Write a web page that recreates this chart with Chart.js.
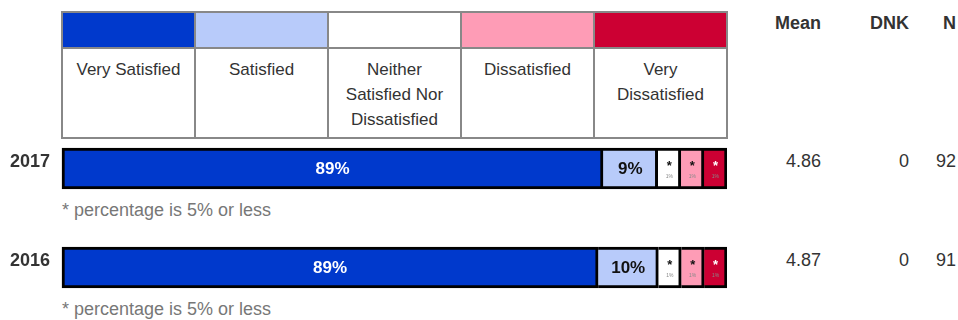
<!DOCTYPE html>
<html>
<head>
<meta charset="utf-8">
<script src="https://cdn.jsdelivr.net/npm/chart.js@4"></script>
<style>
  body { margin: 0; width: 958px; height: 320px; background: #fff; font-family: "Liberation Sans", Arial, sans-serif; color: #333; position: relative; overflow: hidden; }
  #legend { position: absolute; left: 61px; top: 11px; width: 667px; border-collapse: collapse; table-layout: fixed; border: 2px solid #333; }
  #legend td { border: 2px solid #888; text-align: center; vertical-align: top; font-size: 17px; line-height: 25px; padding: 8px 4px 0 4px; }
  #legend tr.swatch td { height: 34px; padding: 0; }
  #legend tr.names td { height: 80px; }
  .hdr { position: absolute; top: 13px; font-weight: bold; font-size: 18px; text-align: right; }
  .val { position: absolute; font-size: 18px; text-align: right; }
  .row { position: absolute; left: 0; width: 727px; height: 57px; }
  .note { position: absolute; left: 62px; font-size: 18px; color: #777; }
</style>
</head>
<body>
<table id="legend">
  <tr class="swatch" id="swatchRow"></tr>
  <tr class="names" id="nameRow"></tr>
</table>
<div id="extras"></div>

<script>
// categories and colours
const categories = ['Very Satisfied', 'Satisfied', 'Neither Satisfied Nor Dissatisfied', 'Dissatisfied', 'Very Dissatisfied'];
const colors = ['#0039cc', '#b8cbfa', '#ffffff', '#fe9cb6', '#cc0033'];
const textColors = ['#ffffff', '#111111', '#111111', '#111111', '#ffffff'];

// years and percentages per category
const years = ['2017', '2016'];
const values2017 = [89, 9, 1, 1, 1];
const values2016 = [89, 10, 1, 1, 1];
const means = ['4.86', '4.87'];
const dnk = [0, 0];
const counts = [92, 91];

const rowValues = [values2017, values2016];
const rowTops = [140, 239];
const noteText = '* percentage is 5% or less';
const minShare = 3.8; // small segments still get a visible slice

// legend table
const swatchRow = document.getElementById('swatchRow');
const nameRow = document.getElementById('nameRow');
categories.forEach((c, i) => {
    const s = document.createElement('td');
    s.style.background = colors[i];
    swatchRow.appendChild(s);
    const n = document.createElement('td');
    n.textContent = c;
    nameRow.appendChild(n);
});

const extras = document.getElementById('extras');
function addDiv(cls, text, style) {
    const d = document.createElement('div');
    d.className = cls;
    d.textContent = text;
    Object.assign(d.style, style);
    extras.appendChild(d);
    return d;
}
addDiv('hdr', 'Mean', { left: '740px', width: '81px' });
addDiv('hdr', 'DNK', { left: '840px', width: '69px' });
addDiv('hdr', 'N', { left: '920px', width: '36px' });

// segment labels
const labelPlugin = {
    id: 'segLabels',
    afterDatasetsDraw(chart) {
        const ctx = chart.ctx;
        const raw = chart.options.plugins.segLabels.raw;
        chart.data.datasets.forEach((ds, i) => {
            const bar = chart.getDatasetMeta(i).data[0];
            const x = (bar.base + bar.x) / 2;
            const y = bar.y;
            const v = raw[i];
            ctx.save();
            ctx.textAlign = 'center';
            ctx.textBaseline = 'middle';
            ctx.fillStyle = textColors[i];
            if (v > 5) {
                ctx.font = 'bold 17px "Liberation Sans", Arial, sans-serif';
                ctx.fillText(v + '%', x, y + 1);
            } else {
                ctx.font = 'bold 13px "Liberation Sans", Arial, sans-serif';
                ctx.fillText('*', x, y - 2);
                ctx.font = '5px "Liberation Sans", Arial, sans-serif';
                ctx.fillStyle = '#888';
                ctx.fillText(v + '%', x, y + 8);
            }
            ctx.restore();
        });
    }
};

rowValues.forEach((vals, r) => {
    const top = rowTops[r];
    const wrap = document.createElement('div');
    wrap.className = 'row';
    wrap.style.top = top + 'px';
    const cv = document.createElement('canvas');
    wrap.appendChild(cv);
    extras.appendChild(wrap);

    // display widths: real shares, small ones bumped, normalised to 100
    const shown = vals.map(v => v > 5 ? v : minShare);
    const total = shown.reduce((a, b) => a + b, 0);
    const widths = shown.map(v => v / total * 100);

    new Chart(cv, {
        type: 'bar',
        data: {
            labels: [years[r]],
            datasets: categories.map((c, i) => ({
                label: c,
                data: [widths[i]],
                backgroundColor: colors[i],
                borderColor: '#000',
                borderWidth: { top: 3, bottom: 3, left: i === 0 ? 3 : 0, right: 3 },
                borderSkipped: false,
                barThickness: 41,
                clip: false
            }))
        },
        options: {
            indexAxis: 'y',
            responsive: true,
            maintainAspectRatio: false,
            animation: false,
            layout: { padding: 0 },
            plugins: {
                legend: { display: false },
                tooltip: { enabled: false },
                segLabels: { raw: vals }
            },
            scales: {
                x: { stacked: true, min: 0, max: 100, display: false },
                y: {
                    stacked: true,
                    grid: { display: false, drawTicks: false },
                    border: { display: false },
                    afterFit: s => { s.width = 62; },
                    ticks: {
                        padding: 12,
                        labelOffset: -6,
                        color: '#333',
                        font: { family: '"Liberation Sans", Arial, sans-serif', size: 18, weight: 'bold' }
                    }
                }
            }
        },
        plugins: [labelPlugin]
    });

    const ty = (top + 11) + 'px';
    addDiv('val', means[r], { left: '740px', width: '81px', top: ty });
    addDiv('val', String(dnk[r]), { left: '840px', width: '69px', top: ty });
    addDiv('val', String(counts[r]), { left: '920px', width: '36px', top: ty });
    addDiv('note', noteText, { top: (top + 60) + 'px' });
});
</script>
</body>
</html>
